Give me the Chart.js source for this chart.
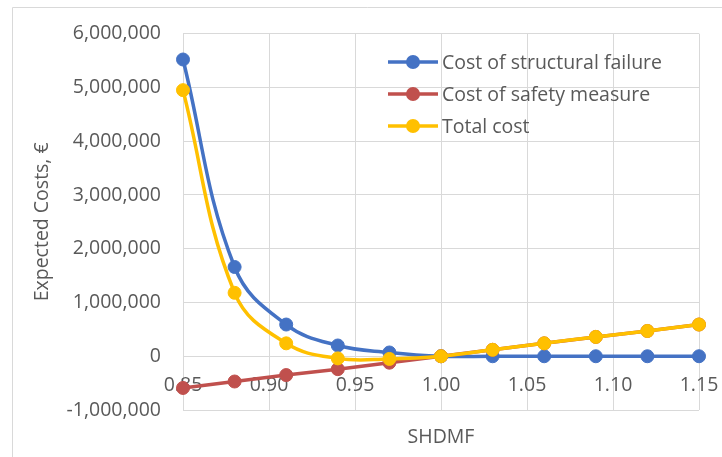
<!DOCTYPE html>
<html>
<head>
<meta charset="utf-8">
<script src="https://cdn.jsdelivr.net/npm/chart.js@4.4.1/dist/chart.umd.min.js"></script>
<style>
  html, body { margin: 0; padding: 0; background: #fff; overflow: hidden; }
  #wrap { position: absolute; left: 0; top: 0; width: 722px; height: 457px; }
</style>
</head>
<body>
<div id="wrap"><canvas id="costChart" width="722" height="457"></canvas></div>
<script>
'use strict';

// SHDMF values (x) and expected costs in euro
const shdmf = [0.85, 0.88, 0.91, 0.94, 0.97, 1.00, 1.03, 1.06, 1.09, 1.12, 1.15];
const failureCost = [5520000, 1660000, 590000, 200000, 70000, 0, 0, 0, 0, 0, 0];
const safetyCost = [-590000, -470000, -350000, -240000, -120000, 0, 120000, 240000, 360000, 470000, 590000];
const totalCost = [4950000, 1180000, 240000, -40000, -50000, 0, 120000, 240000, 360000, 470000, 590000];
const seriesNames = ['Cost of structural failure', 'Cost of safety measure', 'Total cost'];
const seriesColors = ['#4472C4', '#C0504D', '#FFC000'];
const xTicks = [0.85, 0.90, 0.95, 1.00, 1.05, 1.10, 1.15];
const yTicks = [-1000000, 0, 1000000, 2000000, 3000000, 4000000, 5000000, 6000000];

const FONT = { family: '"Open Sans", sans-serif', size: 19.5 };
const TEXT = '#595959';
const GRID = '#d9d9d9';

const toPoints = vals => vals.map((v, i) => ({ x: shdmf[i], y: v }));

function series(idx, vals, tension, order) {
    return {
        label: seriesNames[idx],
        data: toPoints(vals),
        borderColor: seriesColors[idx],
        backgroundColor: seriesColors[idx],
        borderWidth: 3.5,
        pointRadius: 6.5,
        pointBorderWidth: 1,
        pointHoverRadius: 6.5,
        tension: tension,
        clip: false,
        order: order
    };
}

// outer chart frame (only top and left edges are visible in the crop)
const chartFrame = {
    id: 'chartFrame',
    beforeDraw(chart) {
        const ctx = chart.ctx;
        ctx.save();
        ctx.strokeStyle = GRID;
        ctx.lineWidth = 1;
        ctx.beginPath();
        ctx.moveTo(12.5, chart.height);
        ctx.lineTo(12.5, 7.5);
        ctx.lineTo(chart.width, 7.5);
        ctx.stroke();
        ctx.restore();
    }
};

// legend drawn inside the plot area, Excel style (line with marker)
const insideLegend = {
    id: 'insideLegend',
    afterDraw(chart) {
        const ctx = chart.ctx;
        const x0 = 388, x1 = 438, rowY = [62, 94, 126];
        ctx.save();
        ctx.font = FONT.size + 'px ' + FONT.family;
        ctx.textBaseline = 'middle';
        ctx.textAlign = 'left';
        seriesNames.forEach((name, i) => {
            const y = rowY[i];
            ctx.strokeStyle = seriesColors[i];
            ctx.lineWidth = 3.5;
            ctx.beginPath();
            ctx.moveTo(x0, y);
            ctx.lineTo(x1, y);
            ctx.stroke();
            ctx.fillStyle = seriesColors[i];
            ctx.beginPath();
            ctx.arc((x0 + x1) / 2, y, 7, 0, Math.PI * 2);
            ctx.fill();
            ctx.fillStyle = TEXT;
            ctx.fillText(name, 442, y + 1);
        });
        ctx.restore();
    }
};

const chart = new Chart(document.getElementById('costChart'), {
    type: 'line',
    data: {
        datasets: [
            series(0, failureCost, 0.4, 3),
            series(1, safetyCost, 0, 2),
            series(2, totalCost, 0.4, 1)
        ]
    },
    options: {
        responsive: false,
        animation: false,
        layout: { padding: { top: 30, right: 23, bottom: 0, left: 0 } },
        plugins: { legend: { display: false }, tooltip: { enabled: false } },
        scales: {
            x: {
                type: 'linear',
                position: 'bottom',
                min: 0.85,
                max: 1.15,
                afterBuildTicks: s => { s.ticks = xTicks.map(v => ({ value: v })); },
                grid: { color: GRID, lineWidth: 1, drawTicks: false },
                border: { display: false },
                ticks: { display: false },
                title: { display: true, text: 'SHDMF', color: TEXT, font: FONT, padding: { top: 0, bottom: 8 } },
                afterFit: s => { s.height = 47; }
            },
            x2: {
                type: 'linear',
                position: { y: 0 },
                min: 0.85,
                max: 1.15,
                afterBuildTicks: s => { s.ticks = xTicks.map(v => ({ value: v })); },
                grid: { display: false, drawTicks: false },
                border: { display: false },
                ticks: { color: TEXT, font: FONT, padding: 17, maxRotation: 0, callback: v => v.toFixed(2) },
                afterFit: s => { s.paddingLeft = 0; s.paddingRight = 0; }
            },
            y: {
                min: -1000000,
                max: 6000000,
                afterBuildTicks: s => { s.ticks = yTicks.map(v => ({ value: v })); },
                grid: { color: GRID, lineWidth: 1, drawTicks: false },
                border: { display: false },
                ticks: { color: TEXT, font: FONT, padding: 22, callback: v => v.toLocaleString('en-US') },
                title: { display: true, text: 'Expected Costs, €', color: TEXT, font: FONT, padding: { top: 31, bottom: 0 } },
                afterFit: s => { s.width = 183; }
            }
        }
    },
    plugins: [chartFrame, insideLegend]
});
</script>
</body>
</html>
